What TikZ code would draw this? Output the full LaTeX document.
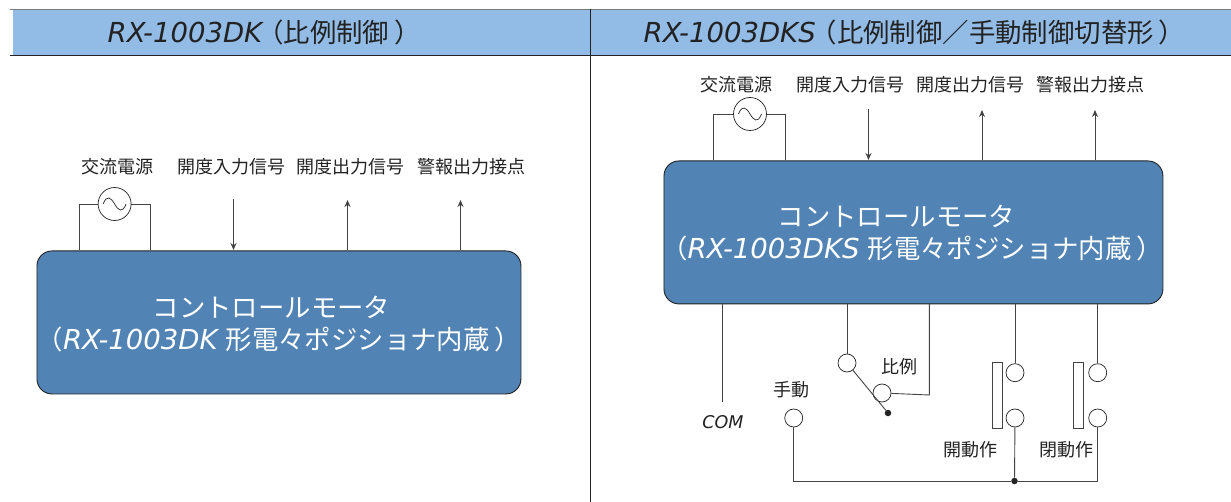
\documentclass[tikz,border=0pt]{standalone}
\usepackage{fontspec}
\setmainfont{DejaVu Sans}
\newfontfamily\jp{Noto Sans CJK JP}
\newfontfamily\latin{DejaVu Sans}
\usetikzlibrary{arrows.meta}
\definecolor{hdr}{HTML}{92BBE5}
\definecolor{boxc}{HTML}{5183B4}
\definecolor{ink}{HTML}{222222}
\newcommand{\lat}[1]{{\fontsize{27.5}{30}\selectfont\latin\itshape #1}}
\tikzset{
  wire/.style={draw=ink!85,line width=0.9pt},
  arr/.style={wire,-{Stealth[length=7pt,width=6pt]}},
  term/.style={circle,draw=ink,fill=white,line width=0.7pt,minimum size=18pt,inner sep=0pt},
  acsrc/.style={circle,draw=ink,fill=white,line width=0.7pt,minimum size=33pt,inner sep=0pt},
  ctrl/.style={rectangle,rounded corners=15pt,draw=ink,fill=boxc,line width=0.9pt,inner sep=0pt,anchor=north west},
  lab/.style={text=ink,inner sep=0pt,font=\fontsize{18}{20}\selectfont\jp},
  boxt/.style={text=white,inner sep=0pt,font=\fontsize{26.4}{30}\selectfont\jp},
  boxl/.style={boxt,anchor=base west},
  hd/.style={text=ink,inner sep=0pt,anchor=base west,font=\fontsize{26.4}{30}\selectfont\jp},
  dot/.style={circle,fill=ink,inner sep=0pt,minimum size=6.5pt},
  button/.style={rectangle,draw=ink!85,fill=white,line width=0.7pt,inner sep=0pt,minimum width=10pt,minimum height=66pt}
}
\begin{document}
\begin{tikzpicture}[x=1pt,y=-1pt]
\useasboundingbox (0,0) rectangle (1231,502);
% header
\fill[hdr] (13,10) rectangle (1231,56);
\draw[ink!60,line width=1pt] (9.5,9.5) -- (1231,9.5);
\draw[ink,line width=1pt] (9.5,56) -- (1231,56);
\draw[ink,line width=1pt] (590,9) -- (590,502);
\node[hd] (t1) at (107.5,43) {\lat{RX-1003DK}\hspace{-5pt}（比例制御\hspace{5pt}）};
\node[hd] (t2) at (643.5,43) {\lat{RX-1003DKS}\hspace{-5pt}（比例制御／手動制御切替形\hspace{5pt}）};
% left box
\node[ctrl,minimum width=484pt,minimum height=143pt] (L) at (36.5,250.5) {};
\node[boxt] (L1) at (271.5,307) {コントロールモータ};
\node[boxl] (L2) at (36.5,350) {（\lat{RX-1003DK}\hspace{8pt}形電々ポジショナ内蔵\hspace{5pt}）};
\node[lab] (La) at (117,167) {交流電源};
\node[lab] (Lb) at (231.5,167) {開度入力信号};
\node[lab] (Lc) at (350.5,167) {開度出力信号};
\node[lab] (Ld) at (471,167) {警報出力接点};
\node[acsrc] (Ls) at (114.6,204) {};
\coordinate (La1) at (79,250); \coordinate (La2) at (150.5,250);
\draw[wire] (Ls.west) -- (79,204) -- (La1);
\draw[wire] (Ls.east) -- (150.5,204) -- (La2);
\draw[ink,line width=0.7pt] (103.1,204) .. controls (107.1,194) and (111.1,198) .. (114.6,204) .. controls (118.1,210) and (122.1,214) .. (126.1,204);
\coordinate (Lb0) at (233.5,199);
\coordinate (Lb1) at (233.5,250);
\draw[arr] (Lb0) -- (Lb1);
\coordinate (Lc1) at (347.5,250);
\coordinate (Lc0) at (347.5,200);
\draw[arr] (Lc1) -- (Lc0);
\coordinate (Ld1) at (460.5,250);
\coordinate (Ld0) at (460.5,200);
\draw[arr] (Ld1) -- (Ld0);
% right box
\node[ctrl,minimum width=499pt,minimum height=143pt] (R) at (663.5,160.5) {};
\node[boxt] (R1) at (896.5,216) {コントロールモータ};
\node[boxl] (R2) at (661,259) {（\lat{RX-1003DKS}\hspace{8pt}形電々ポジショナ内蔵\hspace{5pt}）};
\node[lab] (Ra) at (736,85) {交流電源};
\node[lab] (Rb) at (850,85) {開度入力信号};
\node[lab] (Rc) at (970,85) {開度出力信号};
\node[lab] (Rd) at (1090,85) {警報出力接点};
\node[acsrc] (Rs) at (750,114) {};
\draw[wire] (Rs.west) -- (713.7,114) -- (713.7,160);
\draw[wire] (Rs.east) -- (785.3,114) -- (785.3,160);
\draw[ink,line width=0.7pt] (738.5,114) .. controls (742.5,104) and (746.5,108) .. (750,114) .. controls (753.5,120) and (757.5,124) .. (761.5,114);
\coordinate (Rb0) at (868.5,109);
\coordinate (Rb1) at (868.5,160);
\draw[arr] (Rb0) -- (Rb1);
\coordinate (Rc1) at (982,160);
\coordinate (Rc0) at (982,110);
\draw[arr] (Rc1) -- (Rc0);
\coordinate (Rd1) at (1095,160);
\coordinate (Rd0) at (1095,110);
\draw[arr] (Rd1) -- (Rd0);
% bottom
\coordinate (com) at (722.5,402);
\draw[wire] (722.5,304) -- (com);
\node[lab,font=\fontsize{17.5}{20}\selectfont\latin\itshape] (comt) at (723,422) {COM};
\node[term] (s1) at (847,363) {};
\node[term] (s2) at (882,393) {};
\node[dot] (sd) at (888,413) {};
\node[term] (m) at (793.7,418) {};
\node[term] (a1) at (1015,372.7) {};
\node[term] (a2) at (1015,418) {};
\node[term] (b1) at (1097.7,372.7) {};
\node[term] (b2) at (1097.7,418) {};
\node[button] (ba) at (997,395.8) {};
\node[button] (bb) at (1078.7,395.8) {};
\node[dot] (j) at (1014.5,481) {};
\draw[wire] (847,304) -- (s1);
\draw[wire] (929.3,304) -- (929.3,395) -- (s2);
\draw[wire] (1015,304) -- (a1);
\draw[wire] (1097.7,304) -- (b1);
\draw[wire] (s1) -- (sd);
\draw[wire] (a2) -- (j);
\draw[wire] (m) -- (793.7,481) -- (j) -- (1097.7,481) -- (b2);
\node[lab] (tm) at (791.5,390) {手動};
\node[lab] (tp) at (899.5,367) {比例};
\node[lab] (ta) at (970,450) {開動作};
\node[lab] (tb) at (1066,450) {閉動作};
\end{tikzpicture}
\end{document}
